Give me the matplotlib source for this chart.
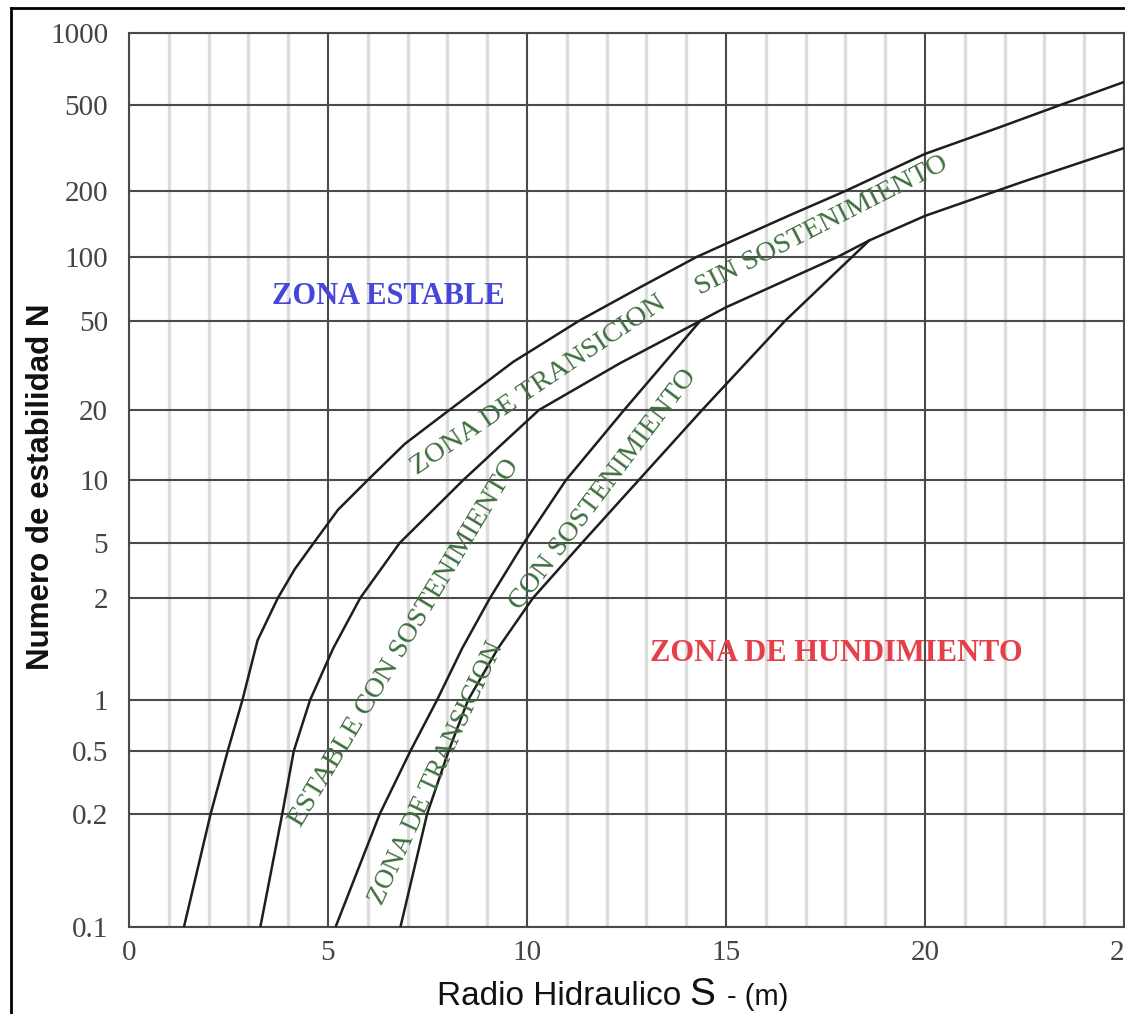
import matplotlib.pyplot as plt
import numpy as np
from matplotlib.lines import Line2D

# hand-drawn N axis: tick values and their spacing on the original sheet
N_TICKS = [0.1, 0.2, 0.5, 1, 2, 5, 10, 20, 50, 100, 200, 500, 1000]
N_TICK_LABELS = ["0.1", "0.2", "0.5", "1", "2", "5", "10", "20", "50", "100", "200", "500", "1000"]
N_SPACING = [0, 113, 176, 227, 329, 384, 447, 517, 606, 670, 736, 822, 894]

S_TICKS = [0, 5, 10, 15, 20, 25]

# boundary curves (S in m, N)
s_stable = [1.38, 2.05, 2.48, 2.85, 3.23, 3.74, 4.17, 4.64, 5.25, 6.0, 6.93, 8.05, 9.65,
            11.3, 12.84, 14.26, 15.0, 16.6, 18.0, 20.0, 21.9, 23.4, 25.0]
n_stable = [0.1, 0.2, 0.5, 1, 1.5, 2, 3.25, 5, 7.2, 10, 14.3, 20, 32.8,
            50, 72, 100, 115, 155, 200, 297, 396, 500, 624]

s_transition = [3.3, 3.85, 4.14, 4.55, 5.13, 5.81, 6.8, 7.56, 8.4, 9.32, 10.3, 12.34,
                14.35, 15.0, 17.8, 18.6, 20.0, 22.5, 25.0]
n_transition = [0.1, 0.2, 0.5, 1, 1.42, 2, 5, 6.95, 10, 14, 20, 32.4,
                50, 58, 100, 119, 154, 222, 316]

s_supported = [5.19, 6.3, 7.07, 7.74, 8.37, 9.07, 9.92, 10.98, 12.44, 14.35]
n_supported = [0.1, 0.2, 0.5, 1, 1.42, 2, 5, 10, 20, 50]

s_caving = [6.82, 7.49, 8.03, 8.52, 9.27, 10.15, 11.38, 12.81, 14.4, 16.48, 18.6]
n_caving = [0.1, 0.2, 0.5, 1, 1.42, 2, 5, 10, 20, 50, 119]

LOG_TICKS = np.log10(N_TICKS)


def forward(v):
    v = np.clip(np.asarray(v, dtype=float), 1e-6, None)
    return np.interp(np.log10(v), LOG_TICKS, N_SPACING)


def inverse(p):
    return 10 ** np.interp(np.asarray(p, dtype=float), N_SPACING, LOG_TICKS)


W, H = 1125, 1014
fig = plt.figure(figsize=(W / 100, H / 100), dpi=100)
ax = fig.add_axes([129 / W, 87 / H, 995 / W, 894 / H])

ax.set_yscale("function", functions=(forward, inverse))
ax.set_xlim(0, 25)
ax.set_ylim(0.1, 1000)

# grid
for s in np.arange(1, 25):
    if s % 5:
        ax.axvline(s, color="#dcdcdc", lw=2.4, zorder=0)
for s in S_TICKS:
    ax.axvline(s, color="#4a4a4a", lw=1.5, zorder=1)
for n in N_TICKS:
    ax.axhline(n, color="#4a4a4a", lw=1.5, zorder=1)

for sp in ax.spines.values():
    sp.set_color("#4a4a4a")
    sp.set_linewidth(1.5)

line_kw = dict(color="#1e1e1e", lw=1.8, zorder=3, solid_joinstyle="round")
ax.plot(s_stable, n_stable, **line_kw)
ax.plot(s_transition, n_transition, **line_kw)
ax.plot(s_supported, n_supported, **line_kw)
ax.plot(s_caving, n_caving, **line_kw)

ax.set_xticks(S_TICKS)
ax.set_xticklabels([str(s) for s in S_TICKS])
ax.set_yticks(N_TICKS)
ax.set_yticklabels(N_TICK_LABELS)
ax.yaxis.set_minor_locator(plt.NullLocator())
ax.tick_params(length=0, labelsize=21, labelcolor="#444444")
ax.tick_params(axis="y", pad=15)
ax.tick_params(axis="x", pad=9)
for lab in ax.get_xticklabels() + ax.get_yticklabels():
    lab.set_fontfamily("Liberation Serif")

serif = "Liberation Serif"
ax.text(0.261, 0.705, "ZONA ESTABLE", transform=ax.transAxes, ha="center", va="center",
        fontsize=22, fontweight="bold", color="#4646d8", family=serif, zorder=4)
ax.text(0.711, 0.306, "ZONA DE HUNDIMIENTO", transform=ax.transAxes, ha="center", va="center",
        fontsize=22, fontweight="bold", color="#e5404a", family=serif, zorder=4)

green = "#3f6f3f"
labels = [
    ("ZONA DE TRANSICION", 0.411, 0.606, 34, 20.5),
    ("SIN SOSTENIMIENTO", 0.696, 0.785, 27, 20.5),
    ("ESTABLE CON SOSTENIMIENTO", 0.277, 0.318, 59, 20.5),
    ("ZONA DE TRANSICION", 0.309, 0.172, 65, 19.5),
    ("CON SOSTENIMIENTO", 0.477, 0.489, 53, 20.5),
]
for txt, x, y, rot, size in labels:
    ax.text(x, y, txt, transform=ax.transAxes, ha="center", va="center", rotation=rot,
            rotation_mode="anchor", fontsize=size, color=green, family=serif, zorder=4)

# axis titles
fig.text(41 / W, 1 - 487 / H, "Numero de estabilidad N", rotation=90, ha="center", va="center",
         fontsize=22.5, fontweight="bold", family="Liberation Sans", color="#111111")
base = 1 - 1005 / H
fig.text(437 / W, base, "Radio Hidraulico", ha="left", va="baseline", fontsize=24,
         family="Liberation Sans", color="#111111")
fig.text(689 / W, base, "S", ha="left", va="baseline", fontsize=28,
         family="Liberation Sans", color="#111111")
fig.text(727 / W, base, "- (m)", ha="left", va="baseline", fontsize=21,
         family="Liberation Sans", color="#111111")

# outer frame of the screenshot
fig.add_artist(Line2D([11 / W, 11 / W], [0, 1 - 8 / H], color="black", lw=2))
fig.add_artist(Line2D([11 / W, 1], [1 - 8 / H, 1 - 8 / H], color="black", lw=2))

fig.savefig("out.png", dpi=100)
